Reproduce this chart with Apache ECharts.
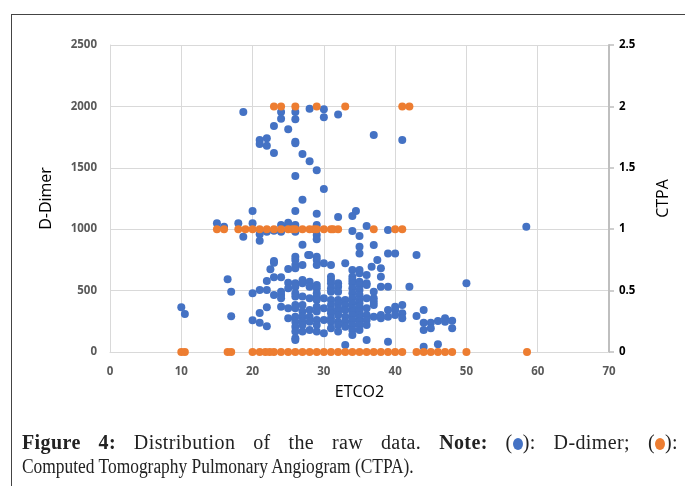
<!DOCTYPE html>
<html>
<head>
<meta charset="utf-8">
<script src="https://cdn.jsdelivr.net/npm/echarts@6/dist/echarts.min.js"></script>
<style>
  html, body { margin: 0; padding: 0; background: #fff; }
  .page { position: relative; width: 685px; height: 486px; overflow: hidden; }
  .frame { position: absolute; left: 11px; top: 14px; width: 720px; height: 520px; border: 1.5px solid #444; box-sizing: border-box; }
  #chart { position: absolute; left: 0; top: 0; width: 685px; height: 486px; }
  .caption {
    position: absolute; left: 22px; top: 430px; width: 656px;
    font-family: "Liberation Serif", "DejaVu Serif", serif; font-size: 20px; line-height: 24px;
    color: #222;
  }
  .caption .line1 { text-align: justify; text-align-last: justify; white-space: nowrap; letter-spacing: 0.4px; }
  .caption .line2 { text-align: left; white-space: nowrap; transform: scaleX(0.87); transform-origin: 0 0; }
  .caption b { font-weight: bold; }
  .dot { display: inline-block; width: 10px; height: 12px; border-radius: 50%; vertical-align: -1px; }
</style>
</head>
<body>
<div class="page">
  <div class="frame"></div>
  <div id="chart"></div>
  <div class="caption">
    <div class="line1"><b>Figure 4:</b> Distribution of the raw data. <b>Note:</b> (<span class="dot" style="background:#4472C4"></span>): D-dimer; (<span class="dot" style="background:#ED7D31"></span>):</div>
    <div class="line2">Computed Tomography Pulmonary Angiogram (CTPA).</div>
  </div>
</div>
<script>
// ETCO2 values for each CTPA level (right axis)
const ctpaZero = [10, 10.5, 16.5, 17, 20, 21, 21.8, 22.4, 23, 24, 25, 26, 27, 28, 29, 30, 31, 32, 33, 34, 35, 36, 37, 38, 39, 40, 41, 43, 44, 45, 46, 47, 48, 50, 58.5]
const ctpaOne = [15, 16, 18, 19, 20, 21, 22, 23, 24, 25, 25.6, 26, 27, 28, 28.6, 29, 30, 31, 31.3, 32, 37, 40, 41]
const ctpaTwo = [23, 24, 26, 29, 33, 41, 42]

// D-Dimer points [ETCO2, D-Dimer], upper part
const dDimerHigh = [
  [18.7, 1954], [24, 1954], [26, 1954], [24, 1900], [26, 1895], [28, 1981], [30, 1976], [30, 1911], [32, 1935],
  [23, 1840], [25, 1813], [37, 1767], [21, 1726], [22, 1740], [41, 1726], [26, 1713], [26, 1699], [21, 1694], [22, 1680],
  [23, 1620], [27, 1612], [28, 1553], [29, 1480], [26, 1433], [30, 1327], [27, 1240],
  [20, 1148], [26, 1148], [34.5, 1148], [29, 1126], [34, 1107], [32, 1099],
  [15, 1048], [18, 1048], [20, 1048], [25, 1053], [16, 1020], [24, 1034], [25, 1034], [26, 1034], [29, 1034], [36, 1026], [58.4, 1020],
  [39, 993], [23, 988], [22, 980], [24, 980], [26, 980], [34, 985], [21, 958], [29, 953], [35, 945], [18.7, 939],
  [29, 918], [21, 906], [27, 874], [37, 871], [35, 858]
]

// D-Dimer values below 850, grouped by ETCO2
const lowEtco2 = [10, 10.5, 16.5, 17, 20, 21, 22, 22.5, 23, 24, 25, 26, 27, 27.8, 28, 29, 30, 31, 32, 33, 34, 35, 36, 36.7, 37, 37.5, 38, 39, 40, 41, 42, 43, 44, 45, 46, 47, 48, 50]
const lowDDimer = [
  [364], [309], [592], [491, 291], [478, 258], [505, 318, 239], [578, 505, 364, 209], [673],
  [741, 727, 608, 464], [608, 491, 464, 437, 369], [676, 564, 519, 356, 274],
  [776, 749, 708, 681, 559, 532, 478, 451, 383, 356, 288, 247, 206, 166, 111, 98],
  [709, 586, 559, 451, 383, 329, 288, 247, 220, 166], [790],
  [790, 573, 532, 437, 342, 288, 247, 179],
  [776, 749, 709, 546, 519, 478, 451, 424, 369, 329, 261, 220, 166],
  [722, 437, 356, 261, 152],
  [709, 613, 586, 559, 519, 491, 424, 383, 342, 315, 274, 247, 193],
  [559, 532, 491, 424, 396, 356, 329, 302, 247, 220, 166],
  [722, 424, 383, 342, 288, 247, 206, 57],
  [668, 613, 586, 559, 519, 478, 437, 396, 356, 329, 302, 261, 220, 179, 138],
  [803, 668, 641, 573, 546, 505, 464, 424, 396, 369, 329, 302, 274, 247, 220, 179],
  [627, 559, 546, 437, 356, 302, 261, 220, 98], [695],
  [491, 437, 410, 383, 288], [749],
  [681, 613, 532, 302, 274],
  [803, 532, 342, 288, 84],
  [803, 369, 342, 302],
  [383, 315, 274], [532], [790, 293], [342, 239, 179, 43], [239, 193], [252, 63], [274, 247], [255, 193], [559]
]

let blueData = dDimerHigh.slice()
lowEtco2.forEach((x, i) => {
  lowDDimer[i].forEach(y => blueData.push([x, y]))
})
let orangeData = []
ctpaZero.forEach(x => orangeData.push([x, 0]))
ctpaOne.forEach(x => orangeData.push([x, 1]))
ctpaTwo.forEach(x => orangeData.push([x, 2]))

const labelFont = '"Open Sans", "Liberation Sans", sans-serif'
let myChart = echarts.init(document.getElementById('chart'))
myChart.setOption({
  animation: false,
  grid: { left: 110, right: 76, top: 45, bottom: 134 },
  xAxis: {
    type: 'value',
    min: 0,
    max: 70,
    interval: 10,
    name: 'ETCO2',
    nameLocation: 'middle',
    nameGap: 32,
    nameTextStyle: { color: '#000', fontSize: 16, fontFamily: labelFont },
    axisLine: { show: true, lineStyle: { color: '#d9d9d9' } },
    axisTick: { show: false },
    axisLabel: { color: '#595959', fontSize: 11.5, fontWeight: 'bold', fontFamily: labelFont, margin: 14 },
    splitLine: { show: true, lineStyle: { color: '#d9d9d9' } }
  },
  yAxis: [
    {
      type: 'value',
      min: 0,
      max: 2500,
      interval: 500,
      name: 'D-Dimer',
      nameLocation: 'middle',
      nameGap: 56,
      nameTextStyle: { color: '#000', fontSize: 16, fontFamily: labelFont },
      axisLine: { show: true, lineStyle: { color: '#d9d9d9' } },
      axisTick: { show: false },
      axisLabel: { color: '#595959', fontSize: 11.5, fontWeight: 'bold', fontFamily: labelFont, margin: 13, formatter: v => String(v) },
      splitLine: { show: true, lineStyle: { color: '#d9d9d9' } }
    },
    {
      type: 'value',
      position: 'right',
      min: 0,
      max: 2.5,
      interval: 0.5,
      name: 'CTPA',
      nameLocation: 'middle',
      nameGap: 46,
      nameTextStyle: { color: '#000', fontSize: 16, fontFamily: labelFont },
      axisLine: { show: true, lineStyle: { color: '#bfbfbf', width: 2 } },
      axisTick: { show: true, inside: false, length: 5, lineStyle: { color: '#bfbfbf', width: 1.5 } },
      axisLabel: { color: '#000', fontSize: 11.5, fontWeight: 'bold', fontFamily: labelFont, margin: 10 },
      splitLine: { show: false }
    }
  ],
  series: [
    {
      name: 'D-dimer',
      type: 'scatter',
      yAxisIndex: 0,
      symbolSize: 8,
      itemStyle: { color: '#4472C4', opacity: 1 },
      data: blueData
    },
    {
      name: 'CTPA',
      type: 'scatter',
      yAxisIndex: 1,
      symbolSize: 8,
      itemStyle: { color: '#ED7D31', opacity: 1 },
      data: orangeData
    }
  ]
})
</script>
</body>
</html>
